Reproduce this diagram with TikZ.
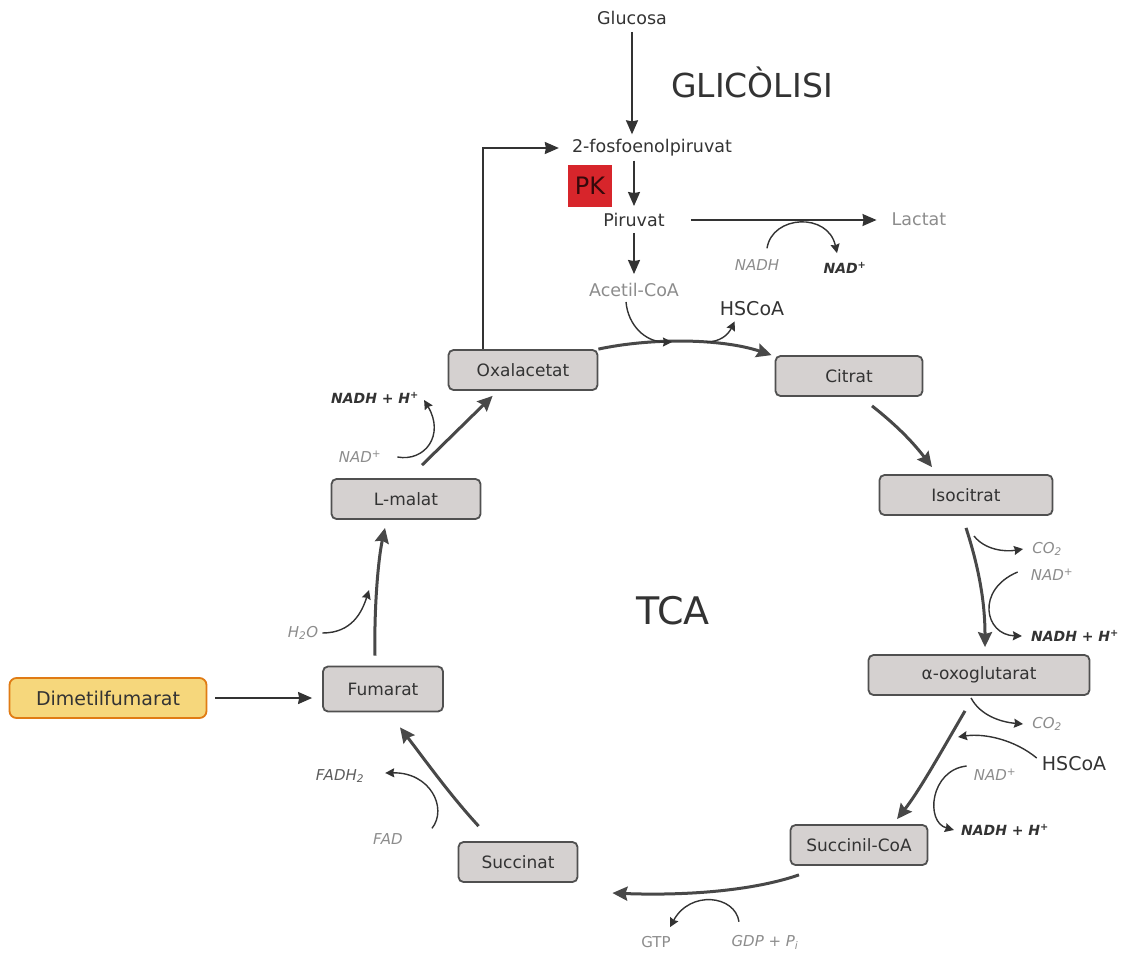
\documentclass[tikz,border=0pt]{standalone}
\usepackage{fontspec}
\setmainfont{DejaVu Sans}
\usepackage{xcolor}
\usetikzlibrary{positioning,arrows.meta,calc}

\definecolor{boxfill}{HTML}{D5D1D0}
\definecolor{boxline}{HTML}{505050}
\definecolor{cyclegray}{HTML}{484848}
\definecolor{softgray}{HTML}{8C8C8C}
\definecolor{inkgray}{HTML}{333333}
\definecolor{dmffill}{HTML}{F6D77C}
\definecolor{dmfline}{HTML}{E07B14}
\definecolor{pkred}{HTML}{D7252B}

\begin{document}
\begin{tikzpicture}[x=1pt, y=-1pt,
    box/.style={rectangle, draw=boxline, line width=1.8pt, fill=boxfill, rounded corners=5pt, minimum height=40pt, text=inkgray, font=\fontsize{17}{20}\selectfont},
    dmfbox/.style={rectangle, draw=dmfline, line width=1.8pt, fill=dmffill, rounded corners=7pt, minimum width=197pt, minimum height=40pt, text=inkgray, font=\fontsize{19}{22}\selectfont},
    pkbox/.style={rectangle, fill=pkred, minimum width=44pt, minimum height=42pt, inner sep=0pt, text=black!75!pkred, font=\fontsize{24}{26}\selectfont},
    lbl/.style={inner sep=1pt, text=inkgray, font=\fontsize{17.5}{20}\selectfont},
    big/.style={inner sep=1pt, text=inkgray, font=\fontsize{19}{22}\selectfont},
    title/.style={inner sep=1pt, text=inkgray, font=\fontsize{33}{36}\selectfont},
    cof/.style={inner sep=1pt, text=softgray, font=\fontsize{15}{17}\selectfont\itshape},
    cofb/.style={inner sep=1pt, text=inkgray, font=\fontsize{14}{16}\selectfont\bfseries\itshape},
    link/.style={-{Stealth[length=14pt,width=12pt,inset=1pt]}, draw=inkgray, line width=1.8pt},
    cyc/.style={-{Stealth[length=15pt,width=14pt,inset=2pt]}, draw=cyclegray, line width=3pt},
    side/.style={-{Stealth[length=9pt,width=9pt,inset=1pt]}, draw=inkgray, line width=1.4pt}
]
\useasboundingbox (0,0) rectangle (1123,958);

% glicolisi
\node[lbl] (glucosa) at (632,18) {Glucosa};
\node[title] (glic) at (752,82) {GLICÒLISI};
\node[lbl] (pep) at (652,148) {2-fosfoenolpiruvat};
\node[pkbox] (pk) at (590,186) {PK};
\node[lbl] (piruvat) at (634,220) {Piruvat};
\node[lbl, text=softgray] (acetil) at (634,290) {Acetil-CoA};
\node[big] (hscoa) at (752,309) {HSCoA};
\node[lbl, text=softgray] (lactat) at (919,219) {Lactat};
\node[cof] (nadh) at (757,265) {NADH};
\node[cofb] (nadlac) at (845,268) {NAD\textsuperscript{+}};

% cicle
\node[title, font=\fontsize{38}{40}\selectfont] (tca) at (673,611) {TCA};
\node[box, minimum width=149pt] (oxal) at (523,370) {Oxalacetat};
\node[box, minimum width=147pt] (citrat) at (849,376) {Citrat};
\node[box, minimum width=173pt] (isocitrat) at (966,495) {Isocitrat};
\node[box, minimum width=221pt] (oxo) at (979,675) {α-oxoglutarat};
\node[box, minimum width=137pt] (succoa) at (859,845) {Succinil-CoA};
\node[box, minimum width=119pt] (succinat) at (518,862) {Succinat};
\node[box, minimum width=120pt, minimum height=45pt] (fumarat) at (383,689) {Fumarat};
\node[box, minimum width=149pt] (lmalat) at (406,499) {L-malat};
\node[dmfbox] (dmf) at (108,698) {Dimetilfumarat};

% cofactors
\node[cof] (co2a) at (1047,549) {CO\textsubscript{2}};
\node[cof] (nadiso) at (1052,575) {NAD\textsuperscript{+}};
\node[cofb] (nadhiso) at (1075,636) {NADH + H\textsuperscript{+}};
\node[cof] (co2b) at (1047,724) {CO\textsubscript{2}};
\node[big] (hscoab) at (1074,764) {HSCoA};
\node[cof] (nadoxo) at (995,775) {NAD\textsuperscript{+}};
\node[cofb] (nadhoxo) at (1005,830) {NADH + H\textsuperscript{+}};
\node[lbl, text=softgray, font=\fontsize{15}{17}\selectfont] (gtp) at (656,942) {GTP};
\node[cof] (gdp) at (765,942) {GDP + P\textsubscript{i}};
\node[cof, text=inkgray!80] (fadh) at (340,776) {FADH\textsubscript{2}};
\node[cof] (fad) at (388,839) {FAD};
\node[cof] (h2o) at (303,633) {H\textsubscript{2}O};
\node[cof] (nadmal) at (360,457) {NAD\textsuperscript{+}};
\node[cofb] (nadhmal) at (375,398) {NADH + H\textsuperscript{+}};

\coordinate (acin) at (672,342);
\coordinate (acout) at (706,342);
\coordinate (isoco) at (974,536);
\coordinate (oxoin) at (958,737);
\coordinate (fumin) at (369,590);

% glicolisi arrows
\draw[link, shorten <=6pt, shorten >=4pt] (glucosa.south) -- (glucosa.south |- pep.north);
\draw[link, shorten <=3pt, shorten >=6pt] (pep.south -| piruvat) -- (piruvat.north);
\draw[link, shorten <=5pt, shorten >=8pt] (piruvat.south) -- (acetil.north);
\draw[link] ([xshift=-40pt]oxal.north) |- ([xshift=-12pt]pep.west);
\draw[link, line width=1.4pt, shorten <=25pt, shorten >=14pt] (piruvat.east) -- (piruvat.east -| lactat.west);
\draw[side] ([xshift=10pt,yshift=10pt]nadh.north) .. controls (772,215) and (828,212) .. ([xshift=-8pt,yshift=8pt]nadlac.north);

% TCA
\draw[cyc] (oxal.north east) .. controls (650,338) and (720,338) .. ([xshift=-3pt]citrat.north west);
\draw[side] ([xshift=-8pt,yshift=-4pt]acetil.south) .. controls (628,325) and (645,342) .. (acin);
\draw[side] (acout) .. controls (720,342) and (728,335) .. ([xshift=16pt,yshift=-4pt]hscoa.south west);

\draw[cyc] ([xshift=23pt,yshift=-9pt]citrat.south) .. controls (900,428) and (915,445) .. ([xshift=-34pt,yshift=7pt]isocitrat.north);

\draw[cyc] ([yshift=-12pt]isocitrat.south) .. controls (978,565) and (985,600) .. ([xshift=6pt,yshift=7pt]oxo.north);
\draw[side] (isoco) .. controls (985,550) and (1005,552) .. ([xshift=-8pt]co2a.west);
\draw[side] ([xshift=-12pt,yshift=3pt]nadiso.west) .. controls (975,590) and (985,635) .. ([xshift=-8pt]nadhiso.west);

\draw[cyc] ([xshift=-14pt,yshift=-15pt]oxo.south) .. controls (945,745) and (920,790) .. ([xshift=38pt,yshift=5pt]succoa.north);
\draw[side] ([xshift=-8pt,yshift=-2pt]oxo.south) .. controls (980,715) and (1000,722) .. ([xshift=-8pt]co2b.west);
\draw[side] ([xshift=-4pt,yshift=6pt]hscoab.west) .. controls (1015,740) and (985,733) .. (oxoin);
\draw[side] ([xshift=-6pt,yshift=9pt]nadoxo.west) .. controls (930,770) and (925,822) .. ([xshift=-6pt]nadhoxo.west);

\draw[cyc] ([xshift=-60pt,yshift=-9pt]succoa.south) .. controls (740,895) and (660,895) .. ([xshift=34pt,yshift=-31pt]succinat.east);
\draw[side] ([xshift=-26pt,yshift=12pt]gdp.north) .. controls (735,895) and (690,890) .. ([xshift=14pt,yshift=8pt]gtp.north);

\draw[cyc] ([xshift=21pt,yshift=15pt]succinat.north west) .. controls (450,795) and (425,760) .. ([xshift=17pt,yshift=-15pt]fumarat.south);
\draw[side] ([xshift=28pt,yshift=4pt]fad.north east) .. controls (448,808) and (430,772) .. ([xshift=20pt,yshift=3pt]fadh.east);

\draw[cyc] ([xshift=-8pt,yshift=10pt]fumarat.north) .. controls (374,610) and (378,560) .. ([xshift=-21pt,yshift=-8pt]lmalat.south);
\draw[side] ([xshift=3pt]h2o.east) .. controls (352,633) and (362,612) .. (fumin);

\draw[cyc] ([xshift=16pt,yshift=13pt]lmalat.north) -- ([xshift=45pt,yshift=-5pt]oxal.south west);
\draw[side] ([xshift=15pt]nadmal.east) .. controls (425,462) and (445,435) .. ([xshift=4pt,yshift=-2pt]nadhmal.east);

\draw[link] ([xshift=8pt]dmf.east) -- ([xshift=-10pt]dmf.east -| fumarat.west);

\end{tikzpicture}
\end{document}
